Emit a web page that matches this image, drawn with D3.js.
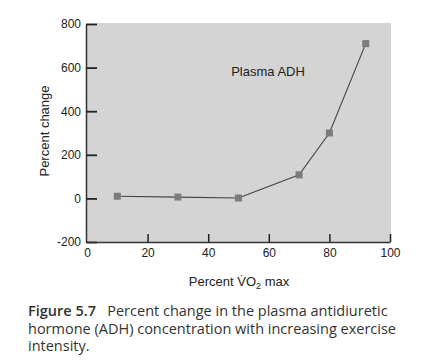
<!DOCTYPE html>
<html>
<head>
<meta charset="utf-8">
<script src="https://cdn.jsdelivr.net/npm/d3@7"></script>
<style>
  body { margin: 0; background: #fff; }
  svg text { font-family: "Liberation Sans", Arial, sans-serif; fill: #222; }
  .caption { position: absolute; left: 28px; top: 302px; width: 398px;
    font-family: "Open Sans", "Noto Sans", sans-serif; font-size: 14.5px;
    line-height: 17.5px; color: #333; white-space: nowrap; }
  .caption .fig { font-weight: 600; }
</style>
</head>
<body>
<div id="chart"></div>
<div class="caption"><span class="fig">Figure 5.7</span>&nbsp;&nbsp; Percent change in the plasma antidiuretic<br>hormone (ADH) concentration with increasing exercise<br>intensity.</div>
<script>
const vo2 = [10, 30, 50, 70, 80, 92]
const adh = [10, 6, 2, 108, 300, 710]
const xTicks = [0, 20, 40, 60, 80, 100]
const yTicks = [-200, 0, 200, 400, 600, 800]

const width = 426
const height = 364
const padLeft = 87, padRight = 390, padTop = 24, padBottom = 242

const svg = d3.select('#chart')
    .append('svg')
    .attr('width', width)
    .attr('height', height)
    .style('position', 'absolute')
    .style('left', 0)
    .style('top', 0)

const xScale = d3.scaleLinear().domain([0, 100]).range([padLeft, padRight])
const yScale = d3.scaleLinear().domain([-200, 800]).range([padBottom, padTop])

// Gray panel
svg.append('rect')
    .attr('x', padLeft - 1)
    .attr('y', padTop - 1)
    .attr('width', padRight - padLeft + 2)
    .attr('height', padBottom - padTop + 1)
    .attr('fill', '#d4d4d4')

// Axes
const yAxis = d3.axisLeft(yScale)
    .tickValues(yTicks)
    .tickFormat(d => String(d))
    .tickSize(0)
    .tickPadding(5)
const gy = svg.append('g')
    .attr('transform', `translate(${padLeft - 1}, 0)`)
    .call(yAxis)
gy.select('.domain').attr('stroke', '#333').attr('stroke-width', 1.5)
gy.selectAll('text').style('font-size', '12px').attr('fill', '#222')
gy.selectAll('.tick')
    .append('line')
    .attr('x1', 0).attr('x2', 11)
    .attr('stroke', '#222').attr('stroke-width', 1.8)

const xAxis = d3.axisBottom(xScale).tickValues(xTicks).tickSize(0).tickPadding(6)
const gx = svg.append('g')
    .attr('transform', `translate(0, ${padBottom})`)
    .call(xAxis)
gx.select('.domain').attr('stroke', '#333').attr('stroke-width', 1.5)
gx.selectAll('text').style('font-size', '12px').attr('fill', '#222')
gx.selectAll('.tick')
    .filter(d => d !== 0)
    .append('line')
    .attr('y1', 0).attr('y2', -8)
    .attr('stroke', '#222').attr('stroke-width', 1.5)

// Line and markers
const pts = vo2.map((v, i) => [v, adh[i]])
svg.append('path')
    .datum(pts)
    .attr('fill', 'none')
    .attr('stroke', '#444')
    .attr('stroke-width', 1.1)
    .attr('d', d3.line().x(d => xScale(d[0])).y(d => yScale(d[1])))

svg.selectAll('rect.pt')
    .data(pts)
    .enter()
    .append('rect')
    .attr('class', 'pt')
    .attr('x', d => xScale(d[0]) - 3.5)
    .attr('y', d => yScale(d[1]) - 3.5)
    .attr('width', 7)
    .attr('height', 7)
    .attr('fill', '#7c7c7c')

// Labels
svg.append('text')
    .attr('x', 268).attr('y', 76)
    .attr('text-anchor', 'middle')
    .style('font-size', '13px')
    .text('Plasma ADH')

svg.append('text')
    .attr('transform', 'translate(49, 131) rotate(-90)')
    .attr('text-anchor', 'middle')
    .style('font-size', '13px')
    .text('Percent change')

const xl = svg.append('text')
    .attr('x', 239).attr('y', 286)
    .attr('text-anchor', 'middle')
    .style('font-size', '13px')
xl.append('tspan').text('Percent ')
xl.append('tspan').text('V̇O')
xl.append('tspan').style('font-size', '9px').attr('dy', 3).text('2')
xl.append('tspan').attr('dy', -3).text(' max')
</script>
</body>
</html>
